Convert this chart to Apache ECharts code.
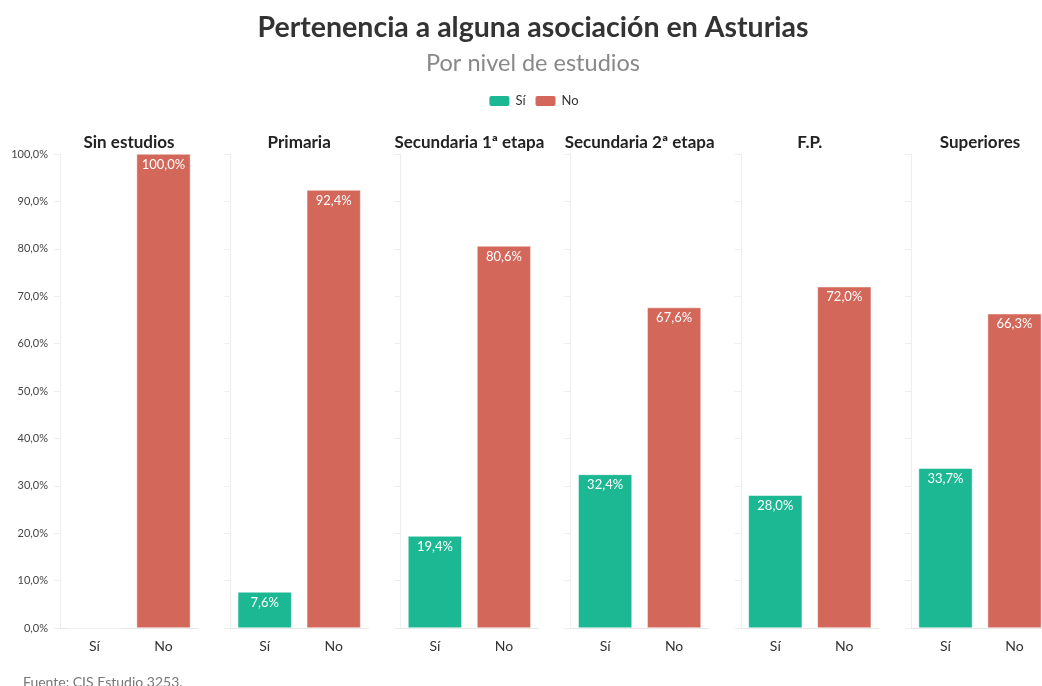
<!DOCTYPE html>
<html lang="es">
<head>
<meta charset="UTF-8">
<title>Pertenencia a alguna asociación en Asturias</title>
<script src="https://cdn.jsdelivr.net/npm/echarts@6/dist/echarts.min.js"></script>
<style>
  html, body { margin: 0; padding: 0; background: #fff; overflow: hidden; }
  #main { width: 1066px; height: 686px; }
</style>
</head>
<body>
<div id="main"></div>
<script>
// datos
var niveles = ['Sin estudios', 'Primaria', 'Secundaria 1ª etapa', 'Secundaria 2ª etapa', 'F.P.', 'Superiores'];
var respuestas = ['Sí', 'No'];
var si = [0, 7.6, 19.4, 32.4, 28.0, 33.7];
var no = [100.0, 92.4, 80.6, 67.6, 72.0, 66.3];

var verde = '#1bb893';
var rojo = '#d2675a';
var fuente = 'Lato, "Noto Sans", sans-serif';

function pct(v) {
    return v.toFixed(1).replace('.', ',') + '%';
}

// el gráfico es algo más ancho que la ventana y queda recortado a la derecha
var myChart = echarts.init(document.getElementById('main'));

var grids = [], xAxes = [], yAxes = [], series = [];
var titles = [
    { text: 'Pertenencia a alguna asociación en Asturias', left: 'center', top: 8,
      textStyle: { fontFamily: fuente, fontSize: 28.5, fontWeight: 'bold', color: '#333' } },
    { text: 'Por nivel de estudios', left: 'center', top: 46,
      textStyle: { fontFamily: fuente, fontSize: 23.5, fontWeight: 'normal', color: '#888' } },
    { text: 'Fuente: CIS Estudio 3253.', left: 18, top: 670,
      textStyle: { fontFamily: fuente, fontSize: 14, fontWeight: 'normal', color: '#777' } }
];

var izq0 = 60, paso = 170.2, ancho = 138;

niveles.forEach(function (nivel, i) {
    var left = izq0 + paso * i;
    grids.push({ left: left, top: 154, width: ancho, height: 474 });
    titles.push({
        text: nivel, left: left + ancho / 2 - 5, top: 129, textAlign: 'center',
        textStyle: { fontFamily: fuente, fontSize: 17, fontWeight: 'bold', color: '#222' }
    });
    xAxes.push({
        type: 'category', gridIndex: i, data: respuestas,
        axisLine: { lineStyle: { color: '#e6e6e6' } },
        axisTick: { alignWithLabel: true, length: 5, lineStyle: { color: '#e6e6e6' } },
        axisLabel: { color: '#333', fontFamily: fuente, fontSize: 14, margin: 11 }
    });
    yAxes.push({
        type: 'value', gridIndex: i, min: 0, max: 100, interval: 10,
        axisLine: { show: true, lineStyle: { color: '#eeeeee' } },
        axisTick: { show: true, length: 6, lineStyle: { color: '#eeeeee' } },
        splitLine: { show: false },
        axisLabel: { show: i === 0, color: '#444', fontFamily: fuente, fontSize: 11, margin: 12,
                     formatter: function (v) { return pct(v); } }
    });
    var etiqueta = {
        show: true, position: 'insideTop', distance: 4, color: '#fff',
        fontFamily: fuente, fontSize: 13,
        formatter: function (p) { return p.value ? pct(p.value) : ''; }
    };
    series.push({
        name: 'Sí', type: 'bar', xAxisIndex: i, yAxisIndex: i, stack: 'g' + i,
        barWidth: '78%', itemStyle: { color: verde, borderColor: '#fff', borderWidth: 0.5 },
        label: etiqueta, data: [si[i], '-']
    });
    series.push({
        name: 'No', type: 'bar', xAxisIndex: i, yAxisIndex: i, stack: 'g' + i,
        barWidth: '78%', itemStyle: { color: rojo, borderColor: '#fff', borderWidth: 0.5 },
        label: etiqueta, data: ['-', no[i]]
    });
});

var option = {
    animation: false,
    color: [verde, rojo],
    title: titles,
    legend: {
        data: respuestas, left: 'center', top: 89,
        itemWidth: 22, itemHeight: 12, itemGap: 8,
        icon: 'roundRect',
        textStyle: { fontFamily: fuente, fontSize: 13, color: '#333' }
    },
    grid: grids,
    xAxis: xAxes,
    yAxis: yAxes,
    series: series
};

myChart.setOption(option);
</script>
</body>
</html>
